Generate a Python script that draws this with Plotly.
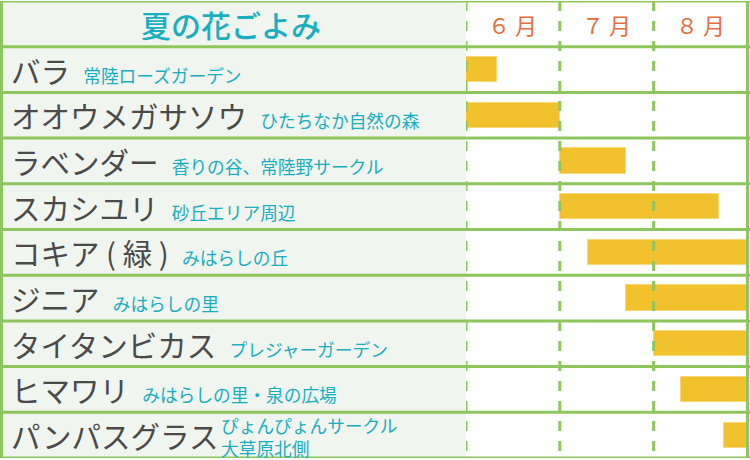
import plotly.graph_objects as go

# ---- data ----
title_text = "夏の花ごよみ"
months = ["６ 月", "７ 月", "８ 月"]
flowers = ["バラ", "オオウメガサソウ", "ラベンダー", "スカシユリ", "コキア ( 緑 )",
           "ジニア", "タイタンビカス", "ヒマワリ", "パンパスグラス"]
places = ["常陸ローズガーデン", "ひたちなか自然の森", "香りの谷、常陸野サークル",
          "砂丘エリア周辺", "みはらしの丘", "みはらしの里", "プレジャーガーデン",
          "みはらしの里・泉の広場", "ぴょんぴょんサークル<br>大草原北側"]
# bloom period in months counted from 1 June (0 = 1 June, 3 = end of August)
bloom_start = [0.0, 0.0, 1.0, 1.0, 1.3, 1.7, 2.0, 2.29, 2.75]
bloom_end = [0.33, 1.0, 1.7, 2.7, 3.0, 3.0, 3.0, 3.0, 3.0]

# ---- styles ----
W, H = 750, 460
GREEN = "#8DC65C"
LEFT_BG = "#F0F5EF"
YELLOW = "#F2C22E"
TEAL = "#19AEC0"
ORANGE = "#E56E3E"
DARK = "#4A4A4A"
FONT = "Noto Sans CJK JP"
X0_PLOT = 466 / W
X1_PLOT = 747.5 / W
NAME_SIZE = 29.5
SUB_SIZE = 17.7

n = len(flowers)
rows = list(range(1, n + 1))

fig = go.Figure()
fig.add_trace(go.Bar(
    y=rows,
    x=[e - s for s, e in zip(bloom_start, bloom_end)],
    base=bloom_start,
    orientation="h",
    width=0.55,
    marker=dict(color=YELLOW, line=dict(color="#F7D77C", width=1)),
    hoverinfo="skip",
    showlegend=False,
))

shapes = []
# left panel background
shapes.append(dict(type="rect", xref="paper", yref="y", x0=0, x1=X0_PLOT,
                   y0=-0.5, y1=n + 0.5, fillcolor=LEFT_BG, line=dict(width=0),
                   layer="below"))
# dashed month separators
for m in range(len(months)):
    shapes.append(dict(type="line", xref="x", yref="y", x0=m, x1=m,
                       y0=-0.5, y1=n + 0.5,
                       line=dict(color=GREEN, width=3, dash="10px,10px"),
                       layer="above"))
# horizontal rules
for k in range(n + 2):
    shapes.append(dict(type="line", xref="paper", yref="y", x0=0, x1=1,
                       y0=k - 0.5, y1=k - 0.5,
                       line=dict(color=GREEN, width=3), layer="above"))
# outer vertical borders
for xp in (1.5 / W, X1_PLOT):
    shapes.append(dict(type="line", xref="paper", yref="y", x0=xp, x1=xp,
                       y0=-0.5, y1=n + 0.5,
                       line=dict(color=GREEN, width=3), layer="above"))

annotations = []
annotations.append(dict(xref="paper", yref="y", x=231 / W, y=0, text=title_text,
                        showarrow=False, xanchor="center", yanchor="middle",
                        font=dict(family=FONT, size=30, color=TEAL, weight=500)))
for i, m in enumerate(months):
    annotations.append(dict(xref="x", yref="y", x=i + 0.5, y=0, text=m,
                            showarrow=False, xanchor="center", yanchor="middle",
                            font=dict(family=FONT, size=22, color=ORANGE)))

for r, name, place in zip(rows, flowers, places):
    if "<br>" in place:
        annotations.append(dict(xref="paper", yref="y", x=9 / W, y=r,
                                text=name, showarrow=False,
                                xanchor="left", yanchor="middle",
                                font=dict(family=FONT, size=NAME_SIZE, color=DARK)))
        annotations.append(dict(xref="paper", yref="y", x=219 / W, y=r,
                                text=place, showarrow=False, align="left",
                                xanchor="left", yanchor="middle", yshift=-1,
                                font=dict(family=FONT, size=SUB_SIZE, color=TEAL)))
    else:
        txt = (f"{name}\u00a0\u00a0<span style='font-size:{SUB_SIZE}px;color:{TEAL}'>"
               f"{place}</span>")
        annotations.append(dict(xref="paper", yref="y", x=9 / W, y=r,
                                text=txt, showarrow=False,
                                xanchor="left", yanchor="middle",
                                font=dict(family=FONT, size=NAME_SIZE, color=DARK)))

fig.update_layout(
    width=W, height=H, autosize=False,
    margin=dict(l=0, r=0, t=1, b=2, pad=0),
    paper_bgcolor="white", plot_bgcolor="white",
    xaxis=dict(domain=[X0_PLOT, X1_PLOT], range=[0, 3], visible=False,
               showgrid=False, zeroline=False, fixedrange=True),
    yaxis=dict(range=[n + 0.5, -0.5], visible=False, showgrid=False,
               zeroline=False, fixedrange=True),
    shapes=shapes,
    annotations=annotations,
    bargap=0,
)

fig.write_html("out.html", config={"displayModeBar": False})
